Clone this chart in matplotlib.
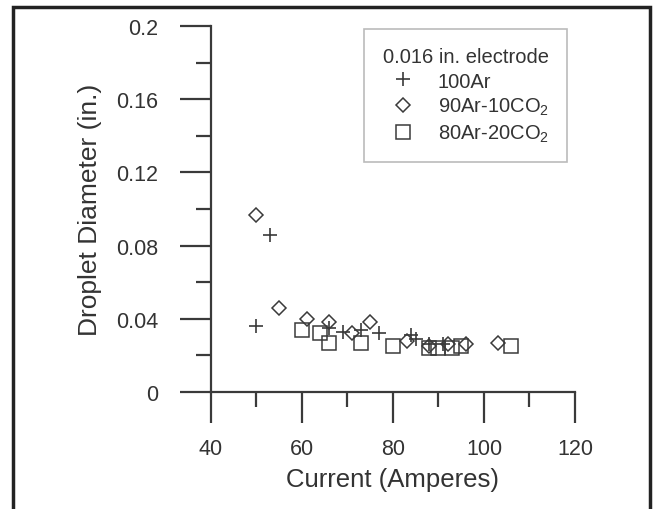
import matplotlib
matplotlib.use("Agg")
import matplotlib.pyplot as plt
from matplotlib.patches import Rectangle
from matplotlib.ticker import MultipleLocator, FixedLocator, FixedFormatter

plt.rcParams['font.family'] = ['Liberation Sans', 'DejaVu Sans']
plt.rcParams['mathtext.fontset'] = 'custom'
plt.rcParams['mathtext.rm'] = 'Liberation Sans'
plt.rcParams['mathtext.it'] = 'Liberation Sans'

# Data (Current in A, droplet diameter in inches)
ar100_x = [50, 53, 66, 69, 73, 77, 84, 85, 88, 91]
ar100_y = [0.036, 0.086, 0.035, 0.033, 0.034, 0.032, 0.031, 0.029, 0.026, 0.026]
co10_x = [50, 55, 61, 66, 71, 75, 83, 88, 92, 96, 103]
co10_y = [0.097, 0.046, 0.040, 0.038, 0.032, 0.038, 0.028, 0.025, 0.026, 0.026, 0.027]
co20_x = [60, 64, 66, 73, 80, 88, 90, 93, 95, 106]
co20_y = [0.034, 0.032, 0.027, 0.027, 0.025, 0.024, 0.024, 0.024, 0.025, 0.025]

series_labels = ["100Ar", "90Ar-10CO$_2$", "80Ar-20CO$_2$"]
legend_title = "0.016 in. electrode"
y_ticks = [0, 0.04, 0.08, 0.12, 0.16, 0.2]
y_ticklabels = ["0", "0.04", "0.08", "0.12", "0.16", "0.2"]
x_ticks = [40, 60, 80, 100, 120]

col = "#3a3a3a"
fig = plt.figure(figsize=(6.54, 5.10), dpi=100)
ax = fig.add_axes([0.3226, 0.2294, 0.5566, 0.7176])

ax.plot(ar100_x, ar100_y, linestyle='none', marker='+', ms=10, mew=1.2, color=col, label=series_labels[0])
ax.plot(co10_x, co10_y, linestyle='none', marker='D', ms=7.5, mew=1.1, mfc='none', mec=col, label=series_labels[1])
ax.plot(co20_x, co20_y, linestyle='none', marker='s', ms=10.5, mew=1.1, mfc='none', mec=col, label=series_labels[2])

ax.set_xlim(40, 120)
ax.set_ylim(0, 0.2)
for s in ['top', 'right']:
    ax.spines[s].set_visible(False)
for s in ['left', 'bottom']:
    ax.spines[s].set_linewidth(1.6)
    ax.spines[s].set_color(col)
    ax.spines[s].set_clip_on(False)

ax.xaxis.set_major_locator(FixedLocator(x_ticks))
ax.xaxis.set_minor_locator(MultipleLocator(10))
ax.yaxis.set_major_locator(FixedLocator(y_ticks))
ax.yaxis.set_major_formatter(FixedFormatter(y_ticklabels))
ax.yaxis.set_minor_locator(MultipleLocator(0.02))
ax.tick_params(which='major', direction='out', length=22, width=1.6, color=col,
               labelsize=15.5, labelcolor='#333333')
ax.tick_params(which='minor', direction='out', length=11, width=1.6, color=col)
ax.tick_params(axis='x', which='major', pad=11)
ax.tick_params(axis='y', which='major', pad=16)

ax.set_xlabel("Current (Amperes)", fontsize=18.5, color='#333333', labelpad=6)
ax.set_ylabel("Droplet Diameter (in.)", fontsize=19, color='#333333', labelpad=10)

leg = ax.legend(title=legend_title, loc='upper right', bbox_to_anchor=(0.978, 0.992),
                borderaxespad=0, fontsize=14.5, title_fontsize=14.5, frameon=True,
                fancybox=False, handletextpad=0.75, borderpad=0.9, labelspacing=0.27,
                handlelength=2.0)
leg.get_frame().set_edgecolor('#aaaaaa')
leg.get_frame().set_linewidth(1.2)
for t in leg.get_texts():
    t.set_color('#333333')
leg.get_title().set_color('#333333')

# Outer frame of the figure
fig.patches.append(Rectangle((13/654, -0.05), (650-13)/654, 1.05 - 8/510,
                             transform=fig.transFigure, fill=False,
                             edgecolor='#222222', linewidth=2.5))

fig.savefig("out.png", dpi=100)
